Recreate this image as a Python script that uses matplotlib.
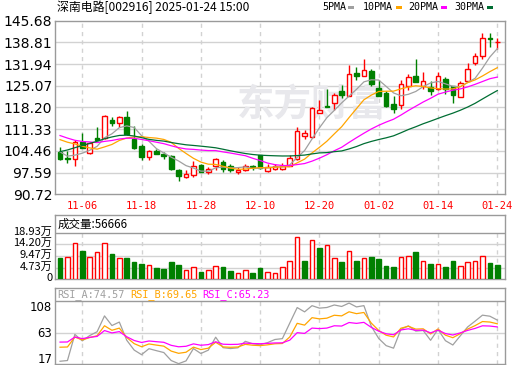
import numpy as np
import matplotlib
matplotlib.use('Agg')
import matplotlib.pyplot as plt
from matplotlib.patches import Rectangle
from matplotlib.transforms import ScaledTranslation

# ---- data ----
dates = ['11-01', '11-04', '11-05', '11-06', '11-07', '11-08', '11-11', '11-12', '11-13', '11-14',
         '11-15', '11-18', '11-19', '11-20', '11-21', '11-22', '11-25', '11-26', '11-27', '11-28',
         '11-29', '12-02', '12-03', '12-04', '12-05', '12-06', '12-09', '12-10', '12-11', '12-12',
         '12-13', '12-16', '12-17', '12-18', '12-19', '12-20', '12-23', '12-24', '12-25', '12-26',
         '12-27', '12-30', '12-31', '01-02', '01-03', '01-06', '01-07', '01-08', '01-09', '01-10',
         '01-13', '01-14', '01-15', '01-16', '01-17', '01-20', '01-21', '01-22', '01-23', '01-24']

opens = [104.05, 102.3, 101.8, 107.4, 103.7, 108.5, 108.4, 114.3, 113.3, 115.2,
         108.2, 106.1, 102.65, 104.5, 103.4, 102.9, 98.4, 96.1, 96.8, 100.0,
         97.6, 99.5, 101.05, 99.7, 97.6, 98.4, 99.7, 103.0, 98.2, 98.6,
         98.7, 99.7, 101.8, 109.2, 108.8, 116.45, 118.8, 119.6, 123.3, 121.95,
         129.2, 128.3, 129.9, 124.4, 122.8, 119.4, 119.1, 124.9, 128.3, 125.1,
         124.6, 123.9, 127.3, 124.9, 121.5, 126.5, 132.4, 134.45, 140.3, 138.85]
highs = [105.8, 104.5, 107.96, 110.1, 107.3, 112.0, 115.8, 115.2, 115.6, 117.0,
         112.4, 106.6, 104.6, 105.0, 104.1, 103.2, 98.7, 98.4, 101.1, 100.3,
         99.4, 102.3, 101.5, 100.4, 99.3, 100.4, 100.1, 103.1, 100.3, 100.2,
         100.6, 103.2, 111.9, 111.1, 118.3, 120.5, 124.1, 122.8, 125.4, 131.8,
         131.0, 133.6, 130.4, 127.0, 123.4, 121.9, 127.0, 128.85, 133.4, 129.4,
         126.5, 129.4, 128.0, 125.1, 126.5, 132.4, 135.5, 141.9, 141.7, 140.3]
lows = [101.7, 100.7, 99.8, 105.4, 103.4, 107.9, 108.3, 112.4, 112.0, 109.6,
        105.0, 101.4, 101.4, 103.4, 101.9, 98.5, 95.0, 95.8, 96.3, 97.7,
        97.1, 98.4, 97.8, 97.7, 97.0, 98.0, 98.3, 98.8, 97.9, 98.3,
        98.4, 99.5, 101.5, 108.2, 108.5, 116.3, 118.3, 117.5, 121.2, 121.7,
        126.8, 128.1, 125.1, 121.7, 118.5, 116.4, 117.7, 123.6, 126.2, 123.9,
        122.3, 123.6, 122.6, 119.6, 121.5, 126.5, 131.8, 133.6, 137.4, 136.6]
closes = [101.8, 101.9, 107.1, 105.5, 106.9, 107.96, 115.6, 113.3, 115.2, 109.8,
          105.3, 102.65, 104.5, 103.6, 102.8, 98.7, 96.6, 97.15, 99.8, 97.9,
          98.6, 101.8, 98.6, 98.3, 98.45, 99.7, 99.2, 99.0, 99.3, 99.7,
          99.8, 102.3, 110.8, 110.1, 118.0, 117.5, 118.35, 122.3, 122.05, 128.85,
          128.1, 130.2, 125.6, 121.7, 118.8, 117.7, 125.7, 127.9, 126.2, 126.5,
          123.5, 128.1, 124.1, 122.3, 125.8, 130.4, 134.45, 140.3, 140.0, 139.0]
# volume in 万 shares
volumes = [8.76, 9.0, 14.7, 11.5, 9.0, 11.1, 14.7, 10.4, 8.6, 8.6,
           7.1, 6.3, 5.7, 4.7, 4.3, 7.0, 5.8, 3.8, 5.0, 3.1,
           3.8, 5.4, 5.0, 3.5, 2.55, 3.8, 2.55, 4.7, 2.96, 2.55,
           4.86, 7.4, 17.0, 7.4, 15.9, 12.7, 13.9, 8.5, 7.0, 11.3,
           7.4, 8.5, 9.0, 8.2, 5.4, 5.0, 8.9, 9.4, 11.1, 7.4,
           6.2, 6.2, 5.0, 7.4, 5.4, 7.0, 7.4, 9.4, 6.6, 5.6666]
# closes before 11-01, estimated so the MA lines start where they do on the chart
prev_closes = [86, 85.5, 85, 86.5, 88, 91.5, 96, 101, 107, 113.5,
               118, 121, 113, 110, 112, 108, 107.5, 106, 104.5, 106,
               110, 112.5, 113, 112, 112, 108.5, 105.5, 102.5, 102.2]

tick_dates = ['11-06', '11-18', '11-28', '12-10', '12-20', '01-02', '01-14', '01-24']
price_levels = [90.72, 97.59, 104.46, 111.33, 118.20, 125.07, 131.94, 138.81, 145.68]
vol_levels = [0, 4.73, 9.47, 14.20, 18.93]
vol_labels = ['0', '4.73万', '9.47万', '14.20万', '18.93万']
rsi_levels = [17, 63, 108]
ma_periods = [5, 10, 20, 30]
rsi_periods = [6, 12, 24]
rsi_text = ['RSI_A:74.57', 'RSI_B:69.65', 'RSI_C:65.23']

RED = '#ff0000'
GREEN = '#008000'
FRAME = '#9a9a9a'
GRID = '#d2d2d2'
ma_colors = ['#a0a0a0', '#ffa500', '#ff00ff', '#006e33']
rsi_colors = ['#a0a0a0', '#ffa500', '#ff00ff']
CJK = ['Noto Sans CJK SC', 'DejaVu Sans']
MONO = 'DejaVu Sans Mono'

allc = np.array(prev_closes + closes, dtype=float)
N = len(closes)
x = np.arange(N)


def moving_avg(n):
    return np.convolve(allc, np.ones(n) / n, 'valid')[-N:]


def rsi(n):
    d = np.diff(allc)
    up = np.maximum(d, 0)
    ab = np.abs(d)
    su, sa = up[0], ab[0]
    out = []
    for u, a in zip(up, ab):
        su = (u + (n - 1) * su) / n
        sa = (a + (n - 1) * sa) / n
        out.append(100 * su / sa if sa > 0 else 50)
    return np.array(out[-N:])


W, H = 520, 365
fig = plt.figure(figsize=(W / 100, H / 100), dpi=100)


def box(top, bottom):
    return [55 / W, 1 - bottom / H, 450 / W, (bottom - top) / H]


def lift(ax, px):
    # nudge the y tick labels up a little, as on the original
    off = ScaledTranslation(0, px / 100, fig.dpi_scale_trans)
    for lb in ax.get_yticklabels():
        lb.set_transform(lb.get_transform() + off)


axp = fig.add_axes(box(20.7, 194.2))
axv = fig.add_axes(box(215, 279.3))
axr = fig.add_axes(box(288.3, 364.3))

tick_idx = [dates.index(d) for d in tick_dates]
xlo, xhi = -0.68, N + 0.04

for ax in (axp, axv, axr):
    ax.set_xlim(xlo, xhi)
    for s in ax.spines.values():
        s.set_color(FRAME)
        s.set_linewidth(1)
    ax.tick_params(length=0)

# ---- price panel ----
axp.set_ylim(price_levels[0], price_levels[-1])
axp.set_yticks(price_levels, ['%.2f' % v for v in price_levels])
axp.tick_params(axis='y', labelsize=10, pad=2)
for v in price_levels[1:-1]:
    axp.axhline(v, color=GRID, lw=1, zorder=0)
axp.vlines(tick_idx, price_levels[0], price_levels[-1], colors=GRID, lw=1,
           linestyles=(0, (3, 3)), zorder=0)
axp.set_xticks(tick_idx, tick_dates)
axp.tick_params(axis='x', labelcolor=RED, labelsize=7.5, pad=5)
for lb in axp.get_xticklabels():
    lb.set_family(MONO)

axp.text((312 - 55) / 450, 0.515, '东方财富', transform=axp.transAxes, ha='center', va='center',
         fontsize=27, fontweight='bold', color='#e8e8ec', family=CJK, zorder=0)

w = 0.62
for i in x:
    o, h, l, c = opens[i], highs[i], lows[i], closes[i]
    if c >= o:
        axp.vlines(i, c, h, colors=RED, lw=1, zorder=3)
        axp.vlines(i, l, o, colors=RED, lw=1, zorder=3)
        axp.add_patch(Rectangle((i - w / 2, o), w, c - o, facecolor='white', edgecolor=RED,
                                lw=1, zorder=3))
    else:
        axp.vlines(i, l, h, colors=GREEN, lw=1, zorder=3)
        axp.add_patch(Rectangle((i - w / 2, c), w, o - c, facecolor=GREEN, edgecolor=GREEN,
                                lw=1, zorder=3))

for n, col in zip(ma_periods, ma_colors):
    axp.plot(x, moving_avg(n), color=col, lw=0.9, zorder=4)

# ---- volume panel ----
vtop = vol_levels[-1] + (232.7 - 215) / ((279.3 - 232.7) / vol_levels[-1])
axv.set_ylim(0, vtop)
axv.set_yticks(vol_levels, vol_labels)
axv.tick_params(axis='y', labelsize=8, pad=2)
for lb in axv.get_yticklabels():
    lb.set_family(CJK)
lift(axv, 2)
axv.set_xticks([])
axv.axhline(vol_levels[-1], color=FRAME, lw=1)
for v in vol_levels[1:-1]:
    axv.axhline(v, color=GRID, lw=1, zorder=0)
axv.vlines(tick_idx, 0, vol_levels[-1], colors=GRID, lw=1, linestyles=(0, (3, 3)), zorder=0)
pc = np.concatenate([[prev_closes[-1]], closes[:-1]])
for i in x:
    if closes[i] >= pc[i]:
        axv.add_patch(Rectangle((i - w / 2, 0), w, volumes[i], facecolor='white', edgecolor=RED,
                                lw=1, zorder=3))
    else:
        axv.add_patch(Rectangle((i - w / 2, 0), w, volumes[i], facecolor=GREEN, edgecolor=GREEN,
                                lw=1, zorder=3))
axv.text(xlo + 0.3, (vol_levels[-1] + vtop) / 2, '成交量:%d' % round(volumes[-1] * 10000),
         va='center', ha='left', fontsize=8.3, family=CJK)

# ---- RSI panel ----
# the labelled scale of the panel and the scale the lines are drawn on differ on the original
axr.set_ylim(8.1, 142.7)
axr.set_yticks(rsi_levels, [str(v) for v in rsi_levels])
axr.tick_params(axis='y', labelsize=8.4, pad=2)
lift(axr, 1.5)
axr.set_xticks([])
axr.axhline(120.2, color=FRAME, lw=1)
axr.axhline(63, color=GRID, lw=1, zorder=0)
axr.vlines(tick_idx, 8.1, 120.2, colors=GRID, lw=1, linestyles=(0, (3, 3)), zorder=0)
axl = axr.twinx()
axl.set_xlim(xlo, xhi)
axl.set_ylim(21.9, 110.9)
axl.axis('off')
for n, col in zip(rsi_periods, rsi_colors):
    axl.plot(x, rsi(n), color=col, lw=0.9, zorder=3)
for k, (t, col) in enumerate(zip(rsi_text, rsi_colors)):
    axr.text(xlo + 0.3 + k * 9.8, (120.2 + 142.7) / 2, t, color=col, va='center', ha='left',
             fontsize=7.4, family=MONO)

# ---- header ----
fig.text(57 / W, 1 - 7.5 / H, '深南电路[002916] 2025-01-24 15:00', va='center', ha='left',
         fontsize=8.6, family=CJK)
leg_x = [322, 363, 408, 454]
for k, n in enumerate(ma_periods):
    fig.text(leg_x[k] / W, 1 - 7.5 / H, '%dPMA' % n, va='center', ha='left', fontsize=7.2,
             family=MONO)
    xs = leg_x[k] + (26 if n < 10 else 33)
    fig.add_artist(Rectangle((xs / W, 1 - 9 / H), 6 / W, 2.5 / H, transform=fig.transFigure,
                             facecolor=ma_colors[k], edgecolor='none'))

fig.savefig('out.png', dpi=100)
